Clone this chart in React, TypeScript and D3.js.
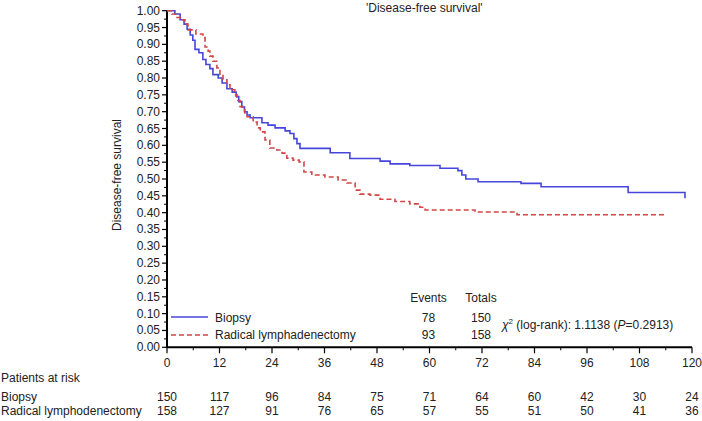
import React from 'react'
import * as d3 from 'd3'

// Kaplan-Meier steps: [month, survival]
const biopsy: [number, number][] = [
	[0, 1.0], [1.8, 0.99], [3.0, 0.973], [3.9, 0.96], [4.6, 0.945], [5.3, 0.928], [5.9, 0.912],
	[6.4, 0.885], [7.3, 0.875], [8.2, 0.855], [8.9, 0.84], [9.8, 0.828], [10.5, 0.81], [11.7, 0.8],
	[12.6, 0.785], [13.7, 0.768], [14.9, 0.758], [15.8, 0.745], [16.4, 0.73], [17.1, 0.714],
	[17.7, 0.7], [18.3, 0.69], [19.0, 0.682], [21.7, 0.667], [23.1, 0.66], [24.7, 0.652],
	[27.0, 0.643], [28.1, 0.635], [29.0, 0.62], [29.7, 0.605], [30.4, 0.591], [37.3, 0.578],
	[41.8, 0.561], [48.7, 0.553], [51.0, 0.545], [55.5, 0.54], [62.4, 0.532], [66.5, 0.525],
	[67.4, 0.512], [68.3, 0.5], [71.1, 0.492], [80.9, 0.487], [85.5, 0.477], [105.4, 0.46],
	[118.4, 0.443]
]

const radical: [number, number][] = [
	[0, 1.0], [1.1, 0.99], [2.3, 0.98], [3.4, 0.973], [4.1, 0.96], [4.8, 0.943], [6.6, 0.931],
	[8.2, 0.92], [8.7, 0.892], [9.4, 0.88], [9.8, 0.865], [10.5, 0.85], [11.4, 0.83], [12.1, 0.81],
	[12.8, 0.795], [13.7, 0.78], [14.4, 0.765], [15.5, 0.75], [16.0, 0.733], [16.7, 0.715],
	[17.8, 0.69], [18.3, 0.685], [19.7, 0.669], [20.6, 0.652], [21.3, 0.64], [22.4, 0.616],
	[23.5, 0.592], [25.1, 0.586], [26.3, 0.577], [27.4, 0.562], [28.8, 0.556], [30.2, 0.551],
	[31.3, 0.521], [33.1, 0.512], [36.1, 0.506], [39.1, 0.497], [41.1, 0.488], [43.0, 0.467],
	[44.1, 0.455], [46.4, 0.452], [48.7, 0.44], [52.1, 0.433], [55.5, 0.426], [57.8, 0.416],
	[59.0, 0.408], [70.4, 0.402], [80.0, 0.394], [114.3, 0.394]
]

const xTicks = [0, 12, 24, 36, 48, 60, 72, 84, 96, 108, 120]
const yTicks = d3.range(0, 21).map(i => i * 0.05)
const riskBiopsy = [150, 117, 96, 84, 75, 71, 64, 60, 42, 30, 24]
const riskRadical = [158, 127, 91, 76, 65, 57, 55, 51, 50, 41, 36]
const events = [78, 93]
const totals = [150, 158]

const BLUE = '#4646dc'
const RED = '#d24646'
const FONT = '"Liberation Sans", Arial, sans-serif'

export default function App() {
	const x = d3.scaleLinear().domain([0, 120]).range([167, 692])
	const y = d3.scaleLinear().domain([0, 1]).range([347.3, 10.7])

	const line = d3.line<[number, number]>()
		.x(d => x(d[0]))
		.y(d => y(d[1]))
		.curve(d3.curveStepAfter)

	const minorX = d3.range(6, 120, 12)
	const minorY = d3.range(0, 20).map(i => i * 0.05 + 0.025)

	return (
		<svg width={702} height={421} style={{ position: 'absolute', left: 0, top: 0, background: '#fff' }}
			fontFamily={FONT} fontSize={12} fill="#222">
			<text x={366} y={11.5}>'Disease-free survival'</text>

			{/* y axis */}
			<line x1={167} x2={167} y1={y(1)} y2={y(0)} stroke="#000" strokeWidth={2} />
			{yTicks.map(t => (
				<g key={'y' + t}>
					<line x1={162} x2={167} y1={y(t)} y2={y(t)} stroke="#000" strokeWidth={1.2} />
					<text x={160} y={y(t) + 4} textAnchor="end">{t.toFixed(2)}</text>
				</g>
			))}
			{minorY.map(t => (
				<line key={'my' + t} x1={164} x2={167} y1={y(t)} y2={y(t)} stroke="#000" strokeWidth={1} />
			))}
			<text transform={`translate(121,175) rotate(-90)`} textAnchor="middle">Disease-free survival</text>

			{/* x axis */}
			<line x1={x(0)} x2={x(120)} y1={y(0)} y2={y(0)} stroke="#000" strokeWidth={2} />
			{xTicks.map(t => (
				<g key={'x' + t}>
					<line x1={x(t)} x2={x(t)} y1={y(0)} y2={y(0) + 6} stroke="#000" strokeWidth={1.2} />
					<text x={x(t)} y={367} textAnchor="middle">{t}</text>
				</g>
			))}
			{minorX.map(t => (
				<line key={'mx' + t} x1={x(t)} x2={x(t)} y1={y(0)} y2={y(0) + 3} stroke="#000" strokeWidth={1} />
			))}

			{/* curves */}
			<path d={line(biopsy) || ''} fill="none" stroke={BLUE} strokeWidth={1.6} />
			<path d={line(radical) || ''} fill="none" stroke={RED} strokeWidth={1.6} strokeDasharray="5,3" />

			{/* legend */}
			<line x1={171} x2={208} y1={317} y2={317} stroke={BLUE} strokeWidth={1.6} />
			<text x={215} y={321.5}>Biopsy</text>
			<line x1={171} x2={208} y1={335} y2={335} stroke={RED} strokeWidth={1.6} strokeDasharray="5,3" />
			<text x={215} y={338.5}>Radical lymphadenectomy</text>

			<text x={428.5} y={301.5} textAnchor="middle">Events</text>
			<text x={481} y={301.5} textAnchor="middle">Totals</text>
			{events.map((e, i) => (
				<text key={'e' + i} x={428.5} y={321.5 + i * 17.5} textAnchor="middle">{e}</text>
			))}
			{totals.map((e, i) => (
				<text key={'t' + i} x={481} y={321.5 + i * 17.5} textAnchor="middle">{e}</text>
			))}
			<text x={502} y={329}>
				<tspan fontStyle="italic">χ</tspan>
				<tspan fontSize={8} dy={-5}>2</tspan>
				<tspan dy={5}> (log-rank): 1.1138 (</tspan>
				<tspan fontStyle="italic">P</tspan>
				<tspan>=0.2913)</tspan>
			</text>

			{/* patients at risk */}
			<text x={1} y={382}>Patients at risk</text>
			<text x={1} y={401}>Biopsy</text>
			<text x={1} y={415}>Radical lymphodenectomy</text>
			{riskBiopsy.map((n, i) => (
				<text key={'rb' + i} x={x(xTicks[i])} y={401} textAnchor="middle">{n}</text>
			))}
			{riskRadical.map((n, i) => (
				<text key={'rr' + i} x={x(xTicks[i])} y={415} textAnchor="middle">{n}</text>
			))}
		</svg>
	)
}
